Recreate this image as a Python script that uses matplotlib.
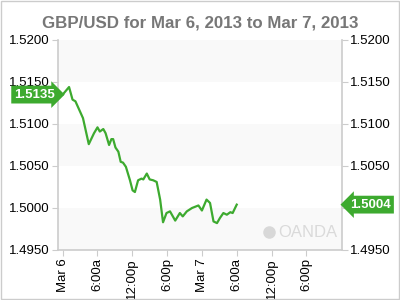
import matplotlib
matplotlib.use("Agg")
import matplotlib.pyplot as plt
import matplotlib.transforms as mtransforms
from matplotlib.patches import Rectangle

plt.rcParams['font.family'] = ['Liberation Sans', 'DejaVu Sans']

# hours since Mar 6 00:00 and GBP/USD rate
hours = [0, 1.1, 1.7, 2.2, 3.5, 4.5, 5.4, 6.0, 6.4, 7.0, 7.4, 8.0, 8.4, 8.7, 9.1, 9.6,
         10.0, 10.4, 10.9, 11.6, 12.05, 12.45, 13.0, 13.6, 13.9, 14.5, 15.0, 15.6, 16.2,
         16.8, 17.3, 17.9, 18.5, 19.4, 20.2, 20.7, 21.4, 22.3, 23.4, 24.0, 24.8, 25.4,
         26.0, 26.6, 27.1, 27.7, 28.3, 28.9, 29.3, 30.0]
rate = [1.5135, 1.5144, 1.5129, 1.5127, 1.5107, 1.5076, 1.5089, 1.5096, 1.5091, 1.5094,
        1.5089, 1.5075, 1.5082, 1.5082, 1.5072, 1.5067, 1.5055, 1.5054, 1.5049, 1.5033,
        1.5021, 1.5019, 1.5033, 1.5035, 1.5034, 1.5041, 1.5034, 1.5033, 1.5031, 1.5010,
        1.4983, 1.4994, 1.4996, 1.4985, 1.4994, 1.4990, 1.4996, 1.5000, 1.5003, 1.4997,
        1.5010, 1.5006, 1.4984, 1.4982, 1.4988, 1.4994, 1.4992, 1.4995, 1.4994, 1.5004]

tick_hours = [0, 6, 12, 18, 24, 30, 36, 42]
tick_labels = ["Mar 6", "6:00a", "12:00p", "6:00p", "Mar 7", "6:00a", "12:00p", "6:00p"]
y_ticks = [1.4950, 1.5000, 1.5050, 1.5100, 1.5150, 1.5200]

green = "#3daa2f"
grey = "#cccccc"

fig = plt.figure(figsize=(4, 3), dpi=100)
ax = fig.add_axes([0.1458, 0.1667, 0.7085, 0.70])

# alternating background bands
for i in range(len(y_ticks) - 1):
    if i % 2 == 0:
        ax.axhspan(y_ticks[i], y_ticks[i + 1], color="#f9f9f9", lw=0, zorder=0)

ax.plot(hours, rate, color=green, lw=1.6, zorder=3)

ax.set_xlim(-0.75, 48.1)
ax.set_ylim(1.4950, 1.5200)
ax.set_xticks(tick_hours)
ax.set_xticklabels(tick_labels, rotation=90, fontsize=9.5)
ax.set_yticks(y_ticks)
ax.set_yticklabels(["%.4f" % v for v in y_ticks], fontsize=9.5)
ax.tick_params(axis='y', which='both', left=True, right=True, labelleft=True,
               labelright=True, length=4, color=grey, pad=2)
ax.tick_params(axis='x', length=4, color=grey, pad=2)

for side in ['left', 'right', 'bottom']:
    ax.spines[side].set_color(grey)
    ax.spines[side].set_linewidth(1.2)
ax.spines['top'].set_visible(False)

ax.set_title("GBP/USD for Mar 6, 2013 to Mar 7, 2013", fontsize=12.2, fontweight='bold',
             color="#777777", pad=9)

# first/last value tags
trans = mtransforms.blended_transform_factory(ax.transAxes, ax.transData)
ax.text(-0.012, rate[0], "%.4f" % rate[0], transform=trans, ha='right', va='center',
        fontsize=9.5, fontweight='bold', color='white', zorder=5, clip_on=False,
        bbox=dict(boxstyle='rarrow,pad=0.22', fc=green, ec='none'))
ax.text(1.03, rate[-1], "%.4f" % rate[-1], transform=trans, ha='left', va='center',
        fontsize=9.5, fontweight='bold', color='white', zorder=5, clip_on=False,
        bbox=dict(boxstyle='larrow,pad=0.22', fc=green, ec='none'))

# watermark
ax.text(0.985, 0.085, "OANDA", transform=ax.transAxes, ha='right', va='center',
        fontsize=12, color="#dadada", zorder=1)
ax.plot([0.745], [0.085], marker='o', ms=8, color="#d8d8d8", transform=ax.transAxes, zorder=1)

# figure border
fig.patches.append(Rectangle((0.002, 0.003), 0.995, 0.994, transform=fig.transFigure,
                             fill=False, ec="#cccccc", lw=1))

fig.savefig("out.png", dpi=100)
